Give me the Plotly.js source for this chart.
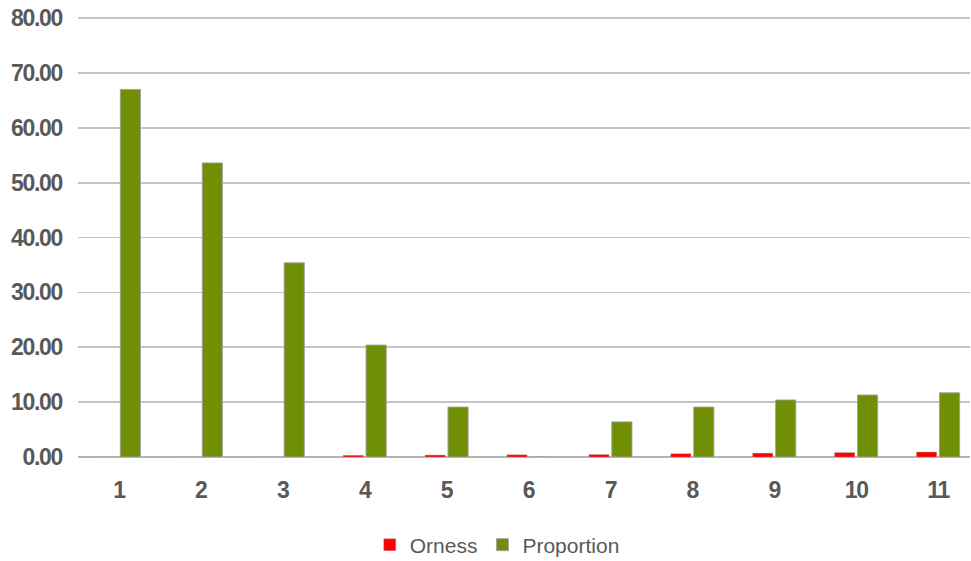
<!DOCTYPE html>
<html>
<head>
<meta charset="utf-8">
<script src="https://cdn.plot.ly/plotly-3.0.1.min.js"></script>
<style>
  html, body { margin: 0; padding: 0; background: #ffffff; }
  #chart { width: 971px; height: 561px; }
  #chart .xtick text, #chart .ytick text { letter-spacing: -1.3px; }
</style>
</head>
<body>
<div id="chart"></div>
<script>
const categories = ["1", "2", "3", "4", "5", "6", "7", "8", "9", "10", "11"];
const orness = [0, 0, 0, 0.3, 0.35, 0.4, 0.45, 0.6, 0.7, 0.8, 0.9];
const proportion = [67.0, 53.6, 35.4, 20.4, 9.1, 0, 6.4, 9.1, 10.4, 11.3, 11.7];
const yTicks = [0, 10, 20, 30, 40, 50, 60, 70, 80];

const tickFont = { family: "'Liberation Sans Narrow', 'Arial Narrow', 'Liberation Sans', Arial, sans-serif", size: 23, color: "#595959", weight: 700 };

const traces = [
  {
    type: "bar", name: "Orness", x: categories, y: orness,
    marker: { color: "#ff0000", line: { color: "rgba(160,160,160,0.7)", width: 0.5 } },
    hoverinfo: "none"
  },
  {
    type: "bar", name: "Proportion", x: categories, y: proportion,
    marker: { color: "#718f05", line: { color: "rgba(160,160,160,0.9)", width: 1 } },
    hoverinfo: "none"
  }
];

const layout = {
  width: 971, height: 561,
  margin: { l: 78, r: 1, t: 17, b: 104, autoexpand: false },
  paper_bgcolor: "#ffffff", plot_bgcolor: "#ffffff",
  barmode: "group", bargap: 0.44, bargroupgap: 0.12,
  showlegend: true,
  legend: {
    orientation: "h", x: 0.47, xanchor: "center", y: -0.2, yanchor: "middle",
    font: { family: "'Liberation Sans', Arial, sans-serif", size: 21, color: "#595959" },
    itemwidth: 30, tracegroupgap: 0, traceorder: "normal"
  },
  xaxis: {
    type: "category", range: [-0.5, 10.39],
    showgrid: false, zeroline: false, showline: false, ticks: "",
    tickfont: tickFont, ticklabelstandoff: 17, fixedrange: true
  },
  yaxis: {
    range: [0, 80.2], tickvals: yTicks, tickformat: ".2f",
    showgrid: true, gridcolor: "#c4c4c4", gridwidth: 1.7,
    zeroline: true, zerolinecolor: "#b4b4b4", zerolinewidth: 2.2,
    showline: false, ticks: "", tickfont: tickFont, ticklabelstandoff: 15, fixedrange: true
  }
};

Plotly.newPlot("chart", traces, layout, { staticPlot: true, displayModeBar: false });
</script>
</body>
</html>
